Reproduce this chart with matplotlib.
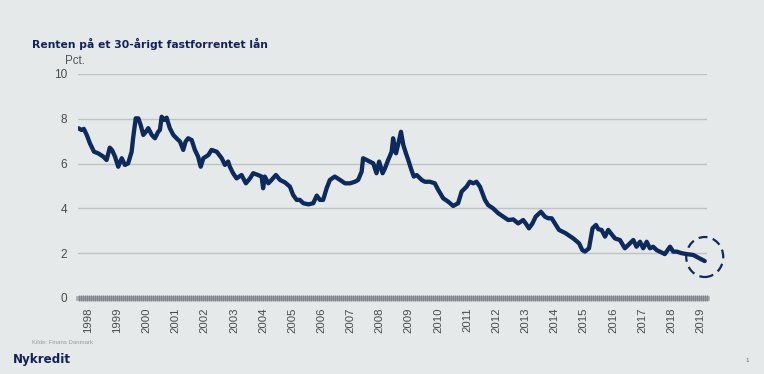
import numpy as np
import matplotlib
matplotlib.use("Agg")
import matplotlib.pyplot as plt
from matplotlib.patches import Ellipse

# ---- data (fractional year, percent) ----
t = [1997.66, 1997.77, 1997.85, 1997.95, 1998.06, 1998.20, 1998.34, 1998.52, 1998.63, 1998.74,
     1998.82, 1998.92, 1999.03, 1999.15, 1999.26, 1999.37, 1999.49, 1999.54, 1999.63, 1999.72,
     1999.80, 1999.89, 1999.98, 2000.06, 2000.18, 2000.29, 2000.40, 2000.46, 2000.52, 2000.61,
     2000.69, 2000.80, 2000.92, 2001.03, 2001.15, 2001.26, 2001.34, 2001.43, 2001.55, 2001.66,
     2001.77, 2001.86, 2001.95, 2002.12, 2002.23, 2002.41, 2002.58, 2002.69, 2002.80, 2002.86,
     2002.97, 2003.09, 2003.26, 2003.41, 2003.55, 2003.66, 2003.83, 2003.95, 2004.00, 2004.06,
     2004.18, 2004.29, 2004.44, 2004.58, 2004.75, 2004.92, 2005.03, 2005.15, 2005.26, 2005.38,
     2005.55, 2005.72, 2005.84, 2005.95, 2006.06, 2006.18, 2006.29, 2006.46, 2006.64, 2006.81,
     2006.98, 2007.15, 2007.26, 2007.38, 2007.43, 2007.55, 2007.66, 2007.78, 2007.89, 2007.98,
     2008.10, 2008.18, 2008.29, 2008.41, 2008.46, 2008.56, 2008.64, 2008.73, 2008.81, 2008.90,
     2008.98, 2009.09, 2009.17, 2009.27, 2009.44, 2009.55, 2009.72, 2009.89, 2010.01, 2010.18,
     2010.35, 2010.52, 2010.69, 2010.81, 2010.98, 2011.09, 2011.21, 2011.32, 2011.44, 2011.61,
     2011.72, 2011.89, 2012.07, 2012.24, 2012.41, 2012.58, 2012.75, 2012.92, 2013.01, 2013.12,
     2013.24, 2013.35, 2013.53, 2013.67, 2013.78, 2013.90, 2014.01, 2014.15, 2014.38, 2014.64,
     2014.84, 2014.95, 2015.04, 2015.18, 2015.30, 2015.42, 2015.50, 2015.61, 2015.73, 2015.84,
     2015.93, 2016.07, 2016.24, 2016.41, 2016.53, 2016.70, 2016.81, 2016.93, 2017.04, 2017.16,
     2017.27, 2017.38, 2017.50, 2017.61, 2017.78, 2017.96, 2018.07, 2018.19, 2018.36, 2018.53,
     2018.76, 2018.97, 2019.15, 2019.19]
rate = [7.58, 7.50, 7.55, 7.28, 6.90, 6.53, 6.46, 6.31, 6.16, 6.71,
        6.60, 6.31, 5.86, 6.24, 5.94, 6.01, 6.53, 7.13, 8.02, 8.02,
        7.72, 7.28, 7.42, 7.58, 7.28, 7.13, 7.42, 7.50, 8.09, 7.95,
        8.05, 7.58, 7.28, 7.13, 6.98, 6.61, 6.98, 7.13, 7.05, 6.61,
        6.31, 5.86, 6.24, 6.38, 6.61, 6.53, 6.24, 5.94, 6.09, 5.86,
        5.57, 5.34, 5.49, 5.12, 5.34, 5.57, 5.49, 5.42, 4.90, 5.42,
        5.12, 5.27, 5.49, 5.27, 5.16, 4.97, 4.60, 4.38, 4.38, 4.23,
        4.18, 4.23, 4.57, 4.38, 4.38, 4.90, 5.27, 5.42, 5.27, 5.12,
        5.12, 5.19, 5.27, 5.64, 6.24, 6.16, 6.09, 6.01, 5.57, 6.09,
        5.57, 5.79, 6.16, 6.53, 7.13, 6.46, 6.90, 7.42, 6.83, 6.46,
        6.16, 5.71, 5.42, 5.49, 5.27, 5.19, 5.19, 5.12, 4.82, 4.45,
        4.30, 4.11, 4.23, 4.75, 4.97, 5.19, 5.12, 5.19, 4.97, 4.38,
        4.15, 4.00, 3.78, 3.63, 3.48, 3.51, 3.33, 3.48, 3.33, 3.11,
        3.33, 3.63, 3.85, 3.63, 3.56, 3.56, 3.33, 3.04, 2.89, 2.66,
        2.44, 2.14, 2.07, 2.22, 3.11, 3.26, 3.07, 3.04, 2.74, 3.04,
        2.89, 2.66, 2.59, 2.22, 2.37, 2.59, 2.29, 2.51, 2.22, 2.51,
        2.22, 2.29, 2.14, 2.07, 1.96, 2.29, 2.07, 2.07, 2.00, 1.96,
        1.92, 1.77, 1.65]
t = t[:len(rate)]
years = list(range(1998, 2020))
yticks = [0, 2, 4, 6, 8, 10]

navy = "#0e2a5c"
bg = "#e5e9ea"

plt.rcParams['font.family'] = ['Liberation Sans', 'DejaVu Sans']

fig = plt.figure(figsize=(7.64, 3.74), dpi=100, facecolor=bg)
ax = fig.add_axes([78/764, 1-298/374, (707-78)/764, (298-74)/374])
ax.set_facecolor(bg)

xmin, xmax = 1997.65, 1997.65 + (707-78)/29.15
ax.set_xlim(xmin, xmax)
ax.set_ylim(0, 10)

for y in yticks[1:]:
    ax.axhline(y, color="#bfc3c5", lw=1.0, zorder=1)

ax.plot(t, rate, color=navy, lw=3.1, solid_joinstyle='round', solid_capstyle='round', zorder=3)

# dashed circle highlight at end
cx, cy = 2019.15, 1.83
ell = Ellipse((cx, cy), width=2*18.5/29.15, height=2*20/22.4, fill=False,
              edgecolor=navy, lw=1.6, ls=(0, (4, 2.5)), clip_on=False, zorder=4)
ax.add_patch(ell)

for s in ax.spines.values():
    s.set_visible(False)

ax.set_yticks(yticks)
ax.set_yticklabels([str(v) for v in yticks])
ax.tick_params(axis='y', length=0, pad=8, labelsize=8.5, labelcolor="#4a4a4a")

ax.set_xticks(years)
ax.set_xticklabels([str(y) for y in years], rotation=90)
ax.tick_params(axis='x', which='major', length=0, pad=7, labelsize=8.2, labelcolor="#4a4a4a")
ax.axhline(0, color="#a9adb2", lw=3.4, zorder=0, clip_on=False)
ax.set_xticks(np.arange(xmin + 0.02, xmax, 2/29.15), minor=True)
ax.tick_params(axis='x', which='minor', length=3.8, width=1.0, color="#7f848b", direction='inout')

fig.text(32/764, 1-48.5/374, "Renten på et 30-årigt fastforrentet lån", fontsize=7.75,
         fontweight='bold', color="#13225a", ha='left', va='baseline', family='DejaVu Sans')
fig.text(65/764, 1-60.5/374, "Pct.", fontsize=8.3, color="#555555", ha='left', va='center')
fig.text(32/764, 1-342/374, "Kilde: Finans Danmark", fontsize=4.3, color="#9a9a9a",
         ha='left', va='center')
fig.text(13/764, 1-360/374, "Nykredit", fontsize=8.6, fontweight='bold', color="#13225a",
         ha='left', va='center', family='DejaVu Sans')
fig.text(747/764, 1-360/374, "1", fontsize=4.5, color="#666666", ha='center', va='center')

fig.savefig("out.png", dpi=100, facecolor=bg)
